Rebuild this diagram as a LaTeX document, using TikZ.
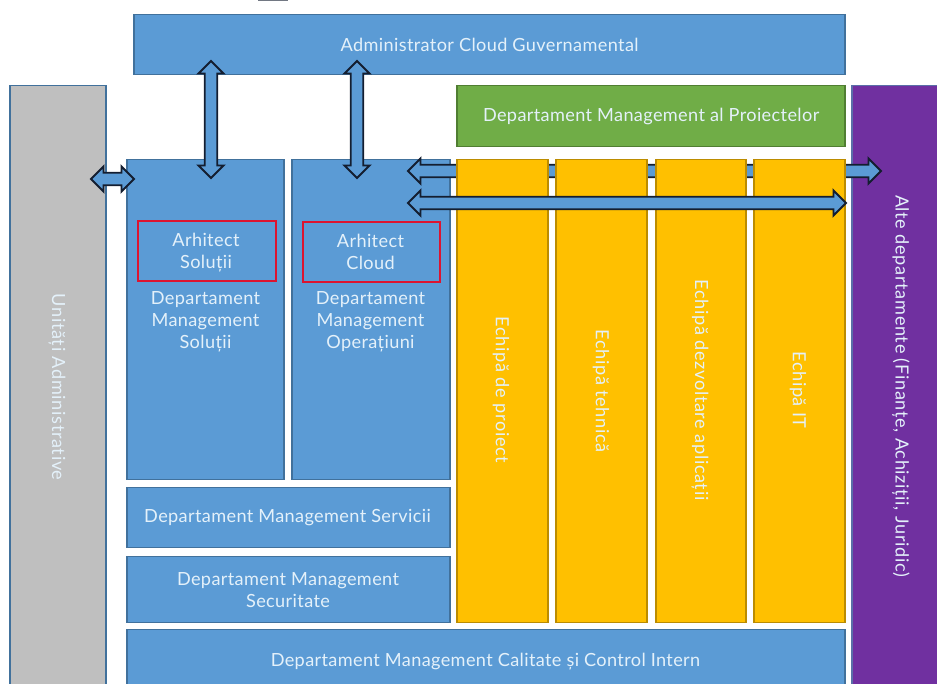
\documentclass[tikz,border=0pt]{standalone}
\usepackage{fontspec}
\setmainfont{Lato}[LetterSpace=2,Ligatures=NoCommon]
\newfontfamily\vfont{Lato}[LetterSpace=3.6,Ligatures=NoCommon]
\usetikzlibrary{calc}
\definecolor{bl}{HTML}{5B9BD5}
\definecolor{bledge}{HTML}{41719C}
\definecolor{gr}{HTML}{70AD47}
\definecolor{gredge}{HTML}{507E32}
\definecolor{ye}{HTML}{FFC000}
\definecolor{yeedge}{HTML}{BC8C00}
\definecolor{pu}{HTML}{7030A0}
\definecolor{puedge}{HTML}{5B6FA8}
\definecolor{gy}{HTML}{BFBFBF}
\definecolor{txt}{HTML}{E4F1FA}
\definecolor{redb}{HTML}{DC1430}
\definecolor{arr}{HTML}{141E30}
\newcommand{\hl}{9.4pt}
\newcommand{\hw}{9.4pt}
\newcommand{\sw}{4.7pt}
\tikzset{
 x=0.75pt,y=-0.75pt,
 boxbase/.style={rectangle,inner sep=0pt,line width=1.1pt,anchor=north west,text=txt,align=center,font=\fontsize{13.6}{16.5}\selectfont},
 bluebox/.style={boxbase,fill=bl,draw=bledge},
 greenbox/.style={boxbase,fill=gr,draw=gredge},
 yellowbox/.style={boxbase,fill=ye,draw=yeedge},
 purplebox/.style={boxbase,fill=pu,draw=puedge},
 graybox/.style={boxbase,fill=gy,draw=bledge},
 redbox/.style={boxbase,draw=redb,line width=1.5pt},
 lbl/.style={text=txt,align=center,inner sep=0pt,font=\fontsize{13.6}{16.5}\selectfont},
 vlbl/.style={lbl,rotate=-90,font=\vfont\fontsize{13.6}{16.5}\selectfont},
 blockarrow/.style={draw=arr,fill=bl,line width=1.4pt,line join=miter,
  to path={-- ($(\tikztostart)!\hl!(\tikztotarget)!\hw!90:(\tikztotarget)$)
           -- ($(\tikztostart)!\hl!(\tikztotarget)!\sw!90:(\tikztotarget)$)
           -- ($(\tikztotarget)!\hl!(\tikztostart)!\sw!-90:(\tikztostart)$)
           -- ($(\tikztotarget)!\hl!(\tikztostart)!\hw!-90:(\tikztostart)$)
           -- (\tikztotarget)
           -- ($(\tikztotarget)!\hl!(\tikztostart)!\hw!90:(\tikztostart)$)
           -- ($(\tikztotarget)!\hl!(\tikztostart)!\sw!90:(\tikztostart)$)
           -- ($(\tikztostart)!\hl!(\tikztotarget)!\sw!-90:(\tikztotarget)$)
           -- ($(\tikztostart)!\hl!(\tikztotarget)!\hw!-90:(\tikztotarget)$)
           -- cycle}},
}
\begin{document}
\begin{tikzpicture}
\useasboundingbox (0,0) rectangle (937,684);
\clip (0,0) rectangle (937,684);
\fill[arr!60] (258,0) rectangle (288,1);
% boxes
\node[bluebox,minimum width=711*0.75pt,minimum height=60*0.75pt] (admin) at (133.4,14) {Administrator Cloud Guvernamental};
\node[graybox,minimum width=96*0.75pt,minimum height=620*0.75pt] (unit) at (9.4,85) {};
\node[greenbox,minimum width=388*0.75pt,minimum height=61*0.75pt] (pm) at (456.4,85) {Departament Management al Proiectelor};
\node[purplebox,minimum width=100*0.75pt,minimum height=620*0.75pt] (alte) at (851.4,85) {};
\node[bluebox,minimum width=157*0.75pt,minimum height=320*0.75pt] (sol) at (126.4,158.6) {};
\node[bluebox,minimum width=158*0.75pt,minimum height=320*0.75pt] (ops) at (291.4,158.6) {};
\node[redbox,minimum width=138.4*0.75pt,minimum height=60.6*0.75pt] (arsol) at (136.6,219.6) {};
\node[redbox,minimum width=137.4*0.75pt,minimum height=60.6*0.75pt] (arcl) at (301.6,220.6) {};
\node[lbl] (arsolt) at (206,253) {Arhitect\\Soluții};
\node[lbl] (arclt) at (370.5,251.5) {Arhitect\\Cloud};
\node[lbl] (solt) at (205.5,321.5) {Departament\\Management\\Soluții};
\node[lbl] (opst) at (370.5,321.5) {Departament\\Management\\Operațiuni};
\node[bluebox,minimum width=323*0.75pt,minimum height=60*0.75pt] (serv) at (126.4,486.6) {};
\node[lbl] (servt) at (287.5,518) {Departament Management Servicii};
\node[bluebox,minimum width=323*0.75pt,minimum height=66*0.75pt] (sec) at (126.4,555.6) {};
\node[lbl] (sect) at (288,590) {Departament Management\\Securitate};
\node[bluebox,minimum width=718*0.75pt,minimum height=70*0.75pt] (cal) at (126.4,628.6) {};
\node[lbl] (calt) at (485.5,661.5) {Departament Management Calitate și Control Intern};
% arrow behind the yellow boxes
\coordinate (u1) at (408,171); \coordinate (u2) at (881,171);
\path[blockarrow] (u1) to (u2);
% yellow boxes
\node[yellowbox,minimum width=91*0.75pt,minimum height=463*0.75pt] (y1) at (456.4,158.6) {};
\node[yellowbox,minimum width=91*0.75pt,minimum height=463*0.75pt] (y2) at (555.4,158.6) {};
\node[yellowbox,minimum width=90*0.75pt,minimum height=463*0.75pt] (y3) at (655.4,158.6) {};
\node[yellowbox,minimum width=91*0.75pt,minimum height=463*0.75pt] (y4) at (753.4,158.6) {};
\node[vlbl] (y1t) at (501,390) {Echipă de proiect};
\node[vlbl] (y2t) at (601,391) {Echipă tehnică};
\node[vlbl] (y3t) at (700,390) {Echipă dezvoltare aplicații};
\node[vlbl] (y4t) at (798,390) {Echipă IT};
\node[vlbl] (unitt) at (57,387) {Unități Administrative};
\node[vlbl] (altet) at (901,386) {Alte departamente (Finanțe, Achiziții, Juridic)};
% other arrows
\coordinate (a1) at (211,61); \coordinate (a2) at (211,178);
\coordinate (b1) at (357,61); \coordinate (b2) at (357,178);
\coordinate (c1) at (91,179); \coordinate (c2) at (134,179);
\coordinate (d1) at (408,203); \coordinate (d2) at (846,203);
\path[blockarrow] (a1) to (a2);
\path[blockarrow] (b1) to (b2);
\path[blockarrow] (c1) to (c2);
\path[blockarrow] (d1) to (d2);
\end{tikzpicture}
\end{document}
